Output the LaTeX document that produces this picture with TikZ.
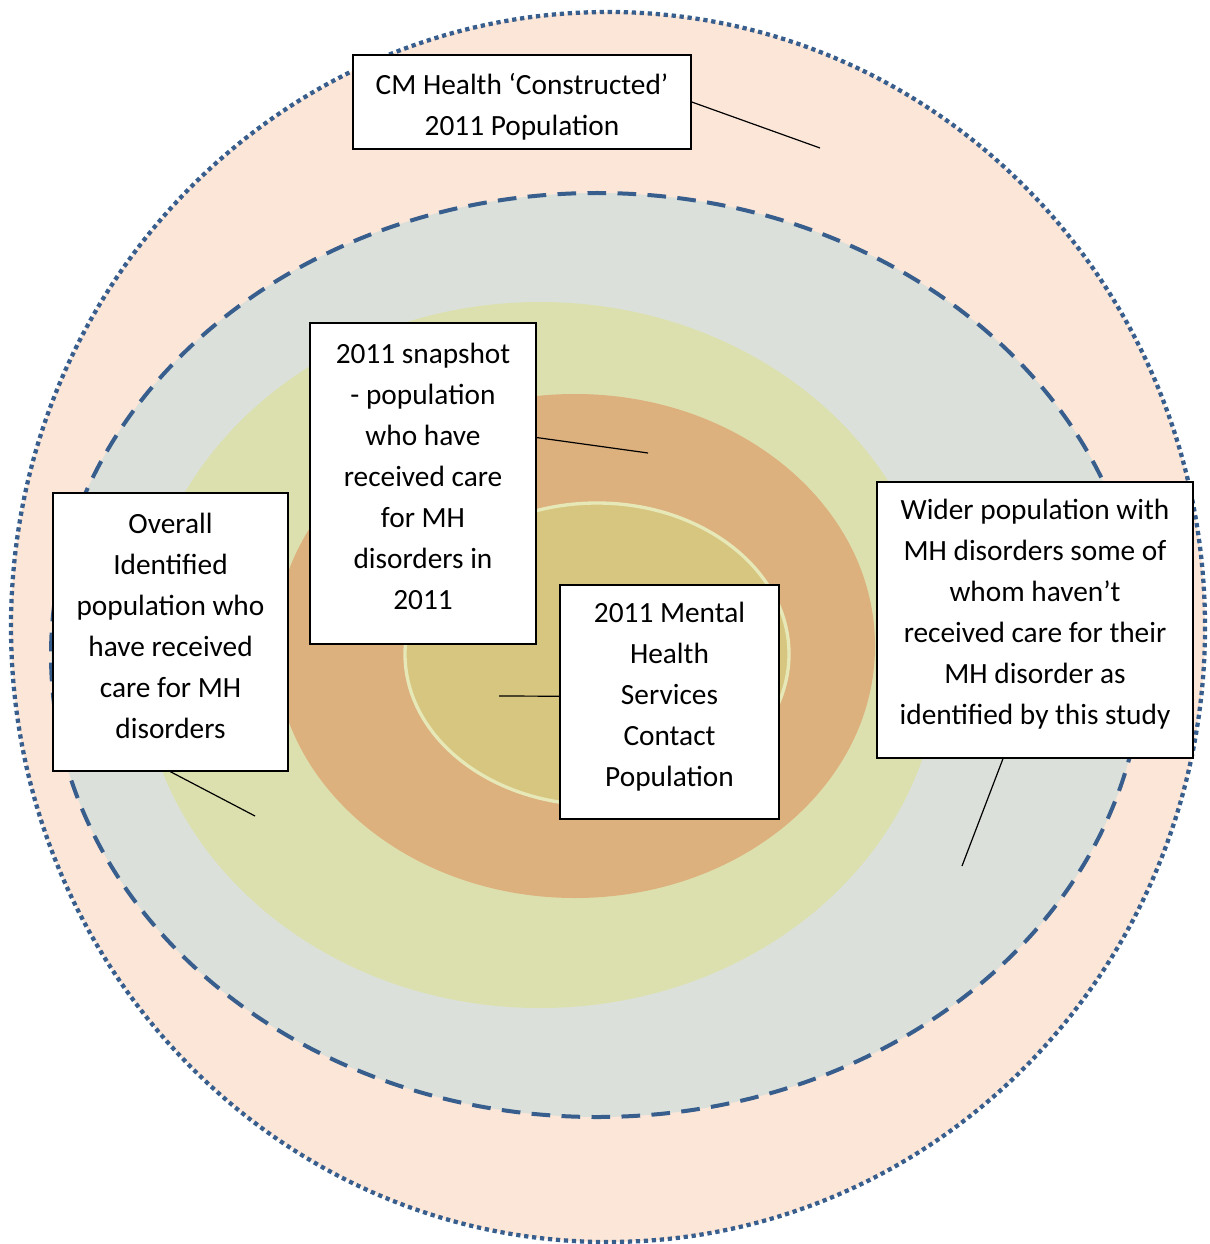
\documentclass[tikz,border=0pt]{standalone}
\usepackage{fontspec}
\setmainfont{Carlito}
\usetikzlibrary{calc,positioning}
\definecolor{peach}{HTML}{FCE6D8}
\definecolor{wider}{HTML}{DBE0DA}
\definecolor{overall}{HTML}{DCE0AE}
\definecolor{snap}{HTML}{DCB17E}
\definecolor{contact}{HTML}{D7C680}
\definecolor{contactrim}{HTML}{E6E8B8}
\definecolor{popblue}{HTML}{385E8E}
\tikzset{
    auto, semithick,
    dotring/.style = {draw=popblue, line width=3.2pt, dash pattern=on 3.2pt off 2.8pt},
    dashring/.style = {draw=popblue, line width=3pt, dash pattern=on 14pt off 8.5pt},
    lead/.style = {draw=black, line width=0.9pt},
    txt/.style = {font=\fontsize{22}{30.75}\selectfont, align=center}
}

\begin{document}
\begin{tikzpicture}[x=0.75pt, y=-0.75pt]
	\tikzstyle{box}=[draw, line width=1.1pt, fill=white, txt, inner sep=0pt]

	\useasboundingbox (0,0) rectangle (1209,1244);

	% rings, outside in
	\path[fill=peach, dotring] (608,627) ellipse [x radius=597, y radius=615];
	\path[fill=wider, dashring] (597,655) ellipse [x radius=546, y radius=462];
	\path[fill=overall] (540,655) ellipse [x radius=400, y radius=353];
	\path[fill=snap] (575,646) ellipse [x radius=300, y radius=252];
	\path[fill=contact, draw=contactrim, line width=2.5pt] (597,654) ellipse [x radius=192, y radius=151];

	% where the leaders end
	\coordinate (t1) at (820,148);
	\coordinate (t2) at (648,453);
	\coordinate (t3) at (255,816);
	\coordinate (t4) at (499,696);
	\coordinate (t5) at (962,866);

	\node[box, minimum width=253.5pt, minimum height=70.5pt] (1) at (522,102)
		{\rule{0pt}{23pt}CM Health ‘Constructed’\\2011 Population};
	\node[box, minimum width=169.5pt, minimum height=240.75pt] (2) at (423,483.5)
		{2011 snapshot\\- population\\who have\\received care\\for MH\\disorders in\\2011\rule[-10.5pt]{0pt}{0pt}};
	\node[box, minimum width=176.25pt, minimum height=208.5pt] (3) at (170.5,632)
		{Overall\\Identified\\population who\\have received\\care for MH\\disorders\rule[-9pt]{0pt}{0pt}};
	\node[box, minimum width=164.25pt, minimum height=175.5pt] (4) at (669.5,702)
		{2011 Mental\\Health\\Services\\Contact\\Population\rule[-10.8pt]{0pt}{0pt}};
	\node[box, minimum width=237pt, minimum height=207pt] (5) at (1035,620)
		{Wider population with\\MH disorders some of\\whom haven’t\\received care for their\\MH disorder as\\identified by this study\rule[-12.3pt]{0pt}{0pt}};

	\path[lead] (1.east) edge (t1);
	\path[lead] (2.22) edge (t2);
	\path[lead] (3.south) edge (t3);
	\path[lead] (4.177) edge (t4);
	\path[lead] (5.-103) edge (t5);
\end{tikzpicture}
\end{document}
